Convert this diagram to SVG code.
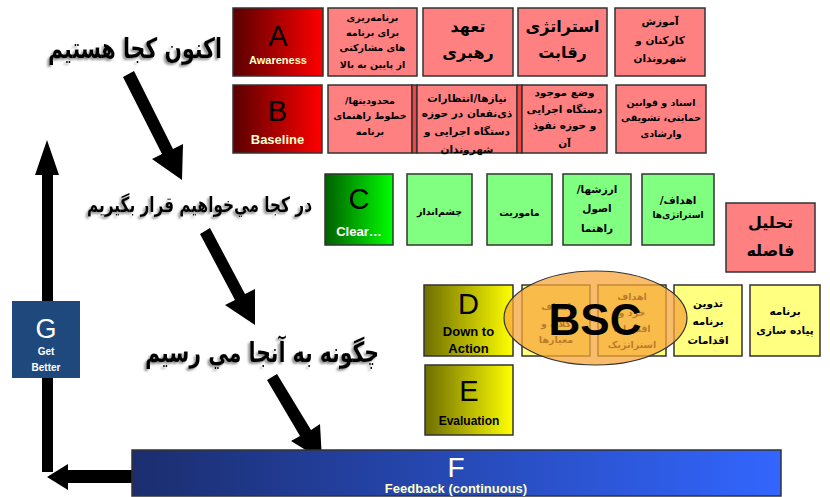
<svg xmlns="http://www.w3.org/2000/svg" width="830" height="497" viewBox="0 0 830 497">
<defs>
<linearGradient id="gRed" x1="0" y1="0" x2="1" y2="0"><stop offset="0" stop-color="#5a0000"/><stop offset="1" stop-color="#ff0000"/></linearGradient>
<linearGradient id="gGreen" x1="0" y1="0" x2="1" y2="0"><stop offset="0" stop-color="#006000"/><stop offset="1" stop-color="#00ff00"/></linearGradient>
<linearGradient id="gYellow" x1="0" y1="0" x2="1" y2="0"><stop offset="0" stop-color="#6e6e00"/><stop offset="1" stop-color="#ffff00"/></linearGradient>
<linearGradient id="gBlue" x1="0" y1="0" x2="1" y2="0"><stop offset="0" stop-color="#1b2d6e"/><stop offset="1" stop-color="#3366ff"/></linearGradient>
<filter id="sh" x="-10%" y="-30%" width="120%" height="160%"><feDropShadow dx="-2" dy="2" stdDeviation="1.2" flood-color="#777" flood-opacity="0.8"/></filter>
<style>
.box{stroke:#333;stroke-width:1.5}
.pink{fill:#ff8080}
.green{fill:#80ff80}
.yel{fill:#ffff80}
.fa{font-family:"DejaVu Sans",sans-serif;font-weight:bold;fill:#000;text-anchor:middle}
.s9{font-size:9.5px}
.s10{font-size:10.5px}
.s15{font-size:16px}
.big{font-family:"Liberation Sans",Arial,sans-serif;text-anchor:middle}
.lab{font-family:"Liberation Sans",Arial,sans-serif;font-weight:bold;text-anchor:middle}
.head{font-family:"DejaVu Sans",sans-serif;font-weight:bold;fill:#000}
</style>
</defs>
<rect width="830" height="497" fill="#fff"/>

<g id="heading1" filter="url(#sh)"><text class="head" x="48" y="58" font-size="28" textLength="174" lengthAdjust="spacingAndGlyphs">اکنون کجا هستیم</text></g>
<g id="heading2" filter="url(#sh)"><text class="head" x="87" y="212" font-size="21" textLength="225" lengthAdjust="spacingAndGlyphs">در کجا مي‌خواهيم قرار بگيريم</text></g>
<g id="heading3" filter="url(#sh)"><text class="head" x="145" y="362" font-size="28" textLength="234" lengthAdjust="spacingAndGlyphs">چگونه به آنجا مي رسيم</text></g>

<g id="connectors" fill="#000">
<polygon points="134,71 173,149 183,144 182,180 152,159 162,154 123,77"/>
<polygon points="210,228 245,294 255,289 255,325 225,305 235,300 200,234"/>
<polygon points="277,374 311,430 320,424 322,460 291,441 300,436 267,380"/>
<polygon points="42,472 42,175 35,175 47,140 59,175 53,175 53,472"/>
<polygon points="132,470 68,470 68,464 47,477 68,490 68,483 132,483"/>
</g>

<g id="A"><rect class="box" x="233" y="8" width="90" height="68" fill="url(#gRed)"/><text class="big" x="278" y="46" font-size="29">A</text><text class="lab" x="278" y="64" font-size="11" fill="#ffffcc">Awareness</text></g>
<g id="A1"><rect class="box pink" x="328" y="8" width="89" height="68"/><text class="fa s9"><tspan x="372.5" y="21">برنامه‌ریزی</tspan><tspan x="372.5" y="36">برای برنامه</tspan><tspan x="372.5" y="51">های مشارکتی</tspan><tspan x="372.5" y="68">از پایین به بالا</tspan></text></g>
<g id="A2"><rect class="box pink" x="423" y="8" width="90" height="68"/><text class="fa s15"><tspan x="468" y="32">تعهد</tspan><tspan x="468" y="58">رهبری</tspan></text></g>
<g id="A3"><rect class="box pink" x="518" y="8" width="89" height="68"/><text class="fa s15"><tspan x="562.5" y="32">استراتژی</tspan><tspan x="562.5" y="58">رقابت</tspan></text></g>
<g id="A4"><rect class="box pink" x="615" y="8" width="90" height="68"/><text class="fa s10"><tspan x="660" y="25">آموزش</tspan><tspan x="660" y="44">کارکنان و</tspan><tspan x="660" y="62">شهروندان</tspan></text></g>

<g id="B"><rect class="box" x="233" y="85" width="89" height="68" fill="url(#gRed)"/><text class="big" x="277.5" y="121" font-size="29">B</text><text class="lab" x="277.5" y="144" font-size="13" fill="#ffffcc">Baseline</text></g>
<g id="B1"><rect class="box pink" x="328" y="85" width="84" height="68"/><text class="fa s9"><tspan x="370" y="104">/محدودیتها</tspan><tspan x="370" y="119">خطوط راهنمای</tspan><tspan x="370" y="135">برنامه</tspan></text></g>
<g id="B2"><rect class="box" x="412" y="85" width="5" height="68" fill="#ee4444"/><rect class="box pink" x="417" y="85" width="100" height="68"/><text class="fa s10"><tspan x="467" y="102">نیازها/انتظارات</tspan><tspan x="467" y="117">ذی‌نفعان در حوزه</tspan><tspan x="467" y="135">دستگاه اجرایی و</tspan><tspan x="467" y="153">شهروندان</tspan></text></g>
<g id="B3"><rect class="box" x="517" y="85" width="5" height="68" fill="#ee4444"/><rect class="box pink" x="522" y="85" width="85" height="68"/><text class="fa s10"><tspan x="564.5" y="96">وضع موجود</tspan><tspan x="564.5" y="113">دستگاه اجرایی</tspan><tspan x="564.5" y="129">و حوزه نفوذ</tspan><tspan x="564.5" y="147">آن</tspan></text></g>
<g id="B4"><rect class="box pink" x="616" y="85" width="90" height="68"/><text class="fa s9"><tspan x="661" y="106">اسناد و قوانین</tspan><tspan x="661" y="121">حمایتی، تشویقی</tspan><tspan x="661" y="137">وارشادی</tspan></text></g>

<g id="C"><rect class="box" x="325" y="174" width="68" height="71" fill="url(#gGreen)"/><text class="big" x="359" y="209" font-size="29">C</text><text class="lab" x="359" y="236" font-size="13" fill="#fff">Clear…</text></g>
<g id="C1"><rect class="box green" x="407" y="174" width="65" height="71"/><text class="fa s9" x="439.5" y="215">چشم‌انداز</text></g>
<g id="C2"><rect class="box green" x="487" y="174" width="65" height="71"/><text class="fa s9" x="519.5" y="216">ماموریت</text></g>
<g id="C3"><rect class="box green" x="563" y="174" width="68" height="71"/><text class="fa s10"><tspan x="597" y="193">/ارزشها</tspan><tspan x="597" y="212">اصول</tspan><tspan x="597" y="232">راهنما</tspan></text></g>
<g id="C4"><rect class="box green" x="642" y="174" width="72" height="71"/><text class="fa s10"><tspan x="678" y="204">/اهداف</tspan><tspan x="678" y="218" font-size="9">استراتژی‌ها</tspan></text></g>
<g id="gap"><rect class="box pink" x="726" y="203" width="89" height="69"/><text class="fa s15"><tspan x="770.5" y="228">تحلیل</tspan><tspan x="770.5" y="256">فاصله</tspan></text></g>

<g id="D"><rect class="box" x="424" y="285" width="89" height="71" fill="url(#gYellow)"/><text class="big" x="468.5" y="314" font-size="29">D</text><text class="lab" x="468.5" y="336" font-size="13">Down to</text><text class="lab" x="468.5" y="353" font-size="13">Action</text></g>
<g id="D1"><rect class="box yel" x="522" y="285" width="68" height="71"/><text class="fa s9"><tspan x="556" y="310">اهداف</tspan><tspan x="556" y="327">کلان و</tspan><tspan x="556" y="343">معیارها</tspan></text></g>
<g id="D2"><rect class="box yel" x="598" y="285" width="68" height="71"/><text class="fa s9"><tspan x="632" y="300">اهداف</tspan><tspan x="632" y="316">خرد و</tspan><tspan x="632" y="332">اقدامات</tspan><tspan x="632" y="348">استراتژیک</tspan></text></g>
<g id="D3"><rect class="box yel" x="674" y="285" width="68" height="71"/><text class="fa s10"><tspan x="708" y="307">تدوین</tspan><tspan x="708" y="325">برنامه</tspan><tspan x="708" y="344">اقدامات</tspan></text></g>
<g id="D4"><rect class="box yel" x="750" y="285" width="70" height="71"/><text class="fa s10"><tspan x="785" y="315">برنامه</tspan><tspan x="785" y="334">پیاده سازی</tspan></text></g>
<g id="BSC"><ellipse cx="595.5" cy="318" rx="91.5" ry="47" fill="#f7a53a" fill-opacity="0.75" stroke="#333" stroke-width="1.2"/><text class="lab" x="595" y="335" font-size="44" fill="#000">BSC</text></g>

<g id="E"><rect class="box" x="425" y="365" width="88" height="70" fill="url(#gYellow)"/><text class="big" x="469" y="401" font-size="29">E</text><text class="lab" x="469" y="425" font-size="12">Evaluation</text></g>
<g id="F"><rect class="box" x="132" y="450" width="649" height="46" fill="url(#gBlue)"/><text class="big" x="456" y="477" font-size="28" fill="#fff">F</text><text class="lab" x="456" y="493" font-size="13" fill="#ffffcc">Feedback (continuous)</text></g>
<g id="G"><rect x="12" y="301" width="68" height="77" fill="#1f497d"/><text class="big" x="46" y="338" font-size="27" fill="#fff">G</text><text class="lab" x="46" y="355" font-size="10" fill="#fff">Get</text><text class="lab" x="46" y="371" font-size="10" fill="#fff">Better</text></g>
</svg>
